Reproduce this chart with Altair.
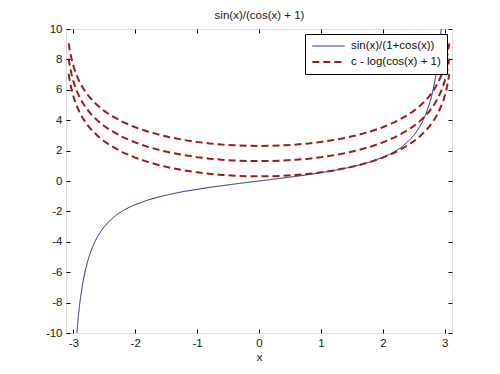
import altair as alt
import pandas as pd

# ---- data ----
series_names = ["sin(x)/(1+cos(x))", "c - log(cos(x) + 1)"]
chart_title = "sin(x)/(cos(x) + 1)"

# blue curve, negative half (positive half is its mirror image)
blue_x_half = [-3.05, -3.0, -2.95, -2.92, -2.9, -2.88, -2.85, -2.82, -2.8, -2.77, -2.75,
               -2.7, -2.65, -2.6, -2.55, -2.5, -2.45, -2.4, -2.3, -2.2, -2.1, -2.0,
               -1.8, -1.6, -1.4, -1.2, -1.0, -0.8, -0.6, -0.4, -0.2]
blue_y_half = [-21.8, -14.10, -10.41, -8.99, -8.24, -7.60, -6.81, -6.17, -5.80, -5.32, -5.04,
               -4.46, -3.99, -3.60, -3.29, -3.01, -2.78, -2.57, -2.23, -1.96, -1.74, -1.56,
               -1.26, -1.03, -0.84, -0.68, -0.55, -0.42, -0.31, -0.20, -0.10]

# red dashed curves (c = 1, 2, 3), left half down to x = 0
red_x_half = [-3.073, -3.06, -3.05, -3.03, -3.0, -2.98, -2.95, -2.9, -2.85, -2.8, -2.75,
              -2.7, -2.6, -2.5, -2.4, -2.2, -2.0, -1.8, -1.6, -1.4, -1.2, -1.0,
              -0.8, -0.6, -0.4, -0.2, 0.0]
red1_half = [7.05, 6.705, 6.475, 6.08, 5.604, 5.341, 5.001, 4.539, 4.165, 3.851, 3.581,
             3.344, 2.944, 2.615, 2.337, 1.888, 1.538, 1.258, 1.03, 0.843, 0.691, 0.568,
             0.471, 0.398, 0.347, 0.317, 0.307]
red2_half = [8.05, 7.705, 7.475, 7.08, 6.604, 6.341, 6.001, 5.539, 5.165, 4.851, 4.581,
             4.344, 3.944, 3.615, 3.337, 2.888, 2.538, 2.258, 2.03, 1.843, 1.691, 1.568,
             1.471, 1.398, 1.347, 1.317, 1.307]
red3_half = [9.05, 8.705, 8.475, 8.08, 7.604, 7.341, 7.001, 6.539, 6.165, 5.851, 5.581,
             5.344, 4.944, 4.615, 4.337, 3.888, 3.538, 3.258, 3.03, 2.843, 2.691, 2.568,
             2.471, 2.398, 2.347, 2.317, 2.307]

x_ticks = [-3, -2, -1, 0, 1, 2, 3]
y_ticks = [-10, -8, -6, -4, -2, 0, 2, 4, 6, 8, 10]

# ---- build table ----
rows = []
bx = blue_x_half + [0.0] + [-v for v in blue_x_half[::-1]]
by = blue_y_half + [0.0] + [-v for v in blue_y_half[::-1]]
for xv, yv in zip(bx, by):
    rows.append({"x": xv, "y": yv, "series": series_names[0], "curve": "b"})
rx = red_x_half + [-v for v in red_x_half[-2::-1]]
for name, half in [("r1", red1_half), ("r2", red2_half), ("r3", red3_half)]:
    ry = half + half[-2::-1]
    for xv, yv in zip(rx, ry):
        rows.append({"x": xv, "y": yv, "series": series_names[1], "curve": name})
df = pd.DataFrame(rows)

FONT = "Liberation Sans"

x_scale = alt.Scale(domain=[-3.117, 3.117], nice=False, zero=False)
y_scale = alt.Scale(domain=[-10, 10], nice=False, zero=False)

common_axis = dict(domain=False, ticks=True, tickSize=4, offset=-4, tickColor="black",
                   grid=False, labelFont=FONT, labelFontSize=11.5, labelColor="#222",
                   titleFont=FONT, titleFontSize=11.5, titleFontWeight="normal",
                   titleColor="#222", labelExpr="'' + datum.value")

legend = alt.Legend(title=None, orient="top-right", offset=5, fillColor="white",
                    strokeColor="black", padding=6, symbolType="stroke",
                    symbolSize=1050, clipHeight=12, labelFont=FONT, labelFontSize=11.5,
                    labelColor="#111", rowPadding=4, labelOffset=5)

main = alt.Chart(df).mark_line(clip=True).encode(
    x=alt.X("x:Q", scale=x_scale,
            axis=alt.Axis(orient="bottom", values=x_ticks, title="x",
                          labelPadding=4, titlePadding=3, **common_axis)),
    y=alt.Y("y:Q", scale=y_scale,
            axis=alt.Axis(orient="left", values=y_ticks, title=None,
                          labelPadding=4, **common_axis)),
    color=alt.Color("series:N", scale=alt.Scale(domain=series_names,
                                                range=["#22227a", "#9e1b1b"]),
                    legend=legend),
    strokeDash=alt.StrokeDash("series:N", scale=alt.Scale(domain=series_names,
                                                          range=[[1, 0], [7, 4]]),
                              legend=legend),
    strokeWidth=alt.StrokeWidth("series:N", scale=alt.Scale(domain=series_names,
                                                            range=[1, 2]),
                                legend=legend),
    detail="curve:N",
    order=alt.Order("x:Q"),
)

frame = alt.Chart(df).mark_line(opacity=0).encode(
    x=alt.X("x:Q", scale=x_scale,
            axis=alt.Axis(orient="top", values=x_ticks, title=chart_title, labels=False,
                          titlePadding=8, **common_axis)),
    y=alt.Y("y:Q", scale=y_scale,
            axis=alt.Axis(orient="right", values=y_ticks, title=None, labels=False,
                          **common_axis)),
    detail="curve:N",
)

chart = alt.layer(main, frame).resolve_axis(x="independent", y="independent").properties(
    width=386, height=304,
    autosize=alt.AutoSizeParams(type="none"),
    padding={"left": 58, "top": 21, "right": 40, "bottom": 33},
).configure_view(stroke="black", strokeWidth=1).configure(background="white")

chart.save("out.html", embed_options={"renderer": "svg", "actions": False})
